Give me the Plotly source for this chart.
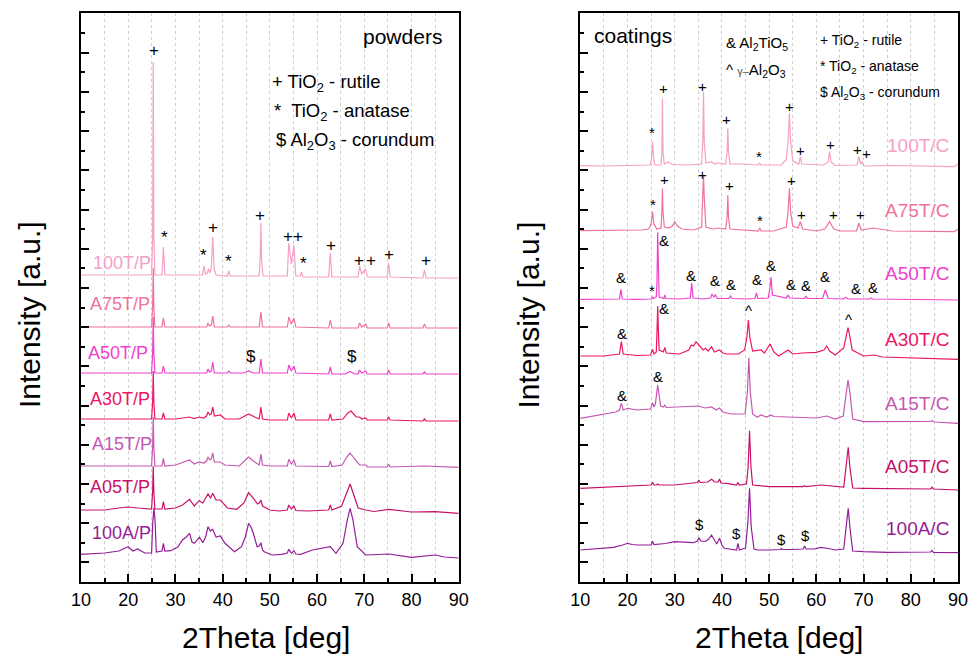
import plotly.graph_objects as go

# ---------------- data (2Theta in deg, intensity in a.u. incl. stacking offset) ----------------
# Powders
tt_100TP = [10, 20, 24.95, 25.17, 25.3, 25.43, 25.65, 27.15, 27.45, 27.75, 32, 35.75, 36.05, 36.35, 36.75, 37.0, 37.3, 37.6, 37.9, 38.2, 38.6, 41.0, 41.3, 41.6, 44, 47.7, 47.95, 48.1, 48.25, 48.55, 53.7, 54.0, 54.55, 55.1, 55.5, 56.4, 56.7, 57.0, 60, 62.45, 62.8, 63.15, 68.7, 69.0, 69.45, 70.3, 70.65, 74.85, 75.15, 75.5, 82.4, 82.75, 83.1, 90]
I_100TP = [307, 307, 307, 345, 520, 345, 307, 307, 335, 307, 307, 307, 316, 308, 309, 313, 309, 314, 345, 313, 307, 306, 311, 306, 306, 306, 322, 359, 322, 306, 306, 339, 318, 337, 306, 306, 310, 305, 305, 305, 329, 305, 305, 316, 308, 313, 305, 305, 319, 305, 304, 312, 304, 304]

tt_A75TP = [10, 20, 24.95, 25.17, 25.3, 25.43, 25.65, 27.15, 27.45, 27.75, 32, 36.6, 36.9, 37.2, 37.6, 37.9, 38.25, 41.0, 41.3, 41.6, 47.75, 48.1, 48.45, 53.7, 54.0, 54.55, 55.1, 55.5, 62.45, 62.8, 63.15, 68.7, 69.0, 69.45, 70.3, 70.65, 74.85, 75.15, 75.5, 82.4, 82.75, 83.1, 90]
I_A75TP = [255, 255, 255, 275, 314, 275, 255, 255, 264, 255, 255, 255, 259, 256, 257, 266, 255, 255, 257, 255, 255, 270, 255, 255, 265, 258, 264, 255, 254, 262, 254, 254, 259, 255, 258, 254, 254, 259, 254, 254, 258, 254, 254]

tt_A50TP = [10, 20, 24.95, 25.17, 25.3, 25.43, 25.65, 27.15, 27.45, 27.75, 32, 36.6, 36.9, 37.2, 37.6, 37.9, 38.25, 41.0, 41.3, 41.6, 44.5, 45.5, 46.5, 47.75, 48.1, 48.45, 53.7, 54.0, 54.55, 55.1, 55.5, 62.45, 62.8, 63.15, 66, 67, 68.0, 68.7, 69.0, 69.45, 70.3, 70.65, 74.85, 75.15, 75.5, 82.4, 82.75, 83.1, 90]
I_A50TP = [209, 209, 209, 228, 265, 228, 209, 209, 216, 209, 209, 209, 213, 210, 211, 220, 209, 209, 211, 209, 209, 211, 209, 209, 223, 209, 209, 217, 211, 216, 209, 208, 215, 208, 208, 210.5, 208, 208, 212, 209, 211, 208, 208, 212, 208, 208, 210, 208, 208]

tt_A30TP = [10, 20, 24.95, 25.17, 25.3, 25.43, 25.65, 27.15, 27.45, 27.75, 30, 33, 34, 35, 36, 36.6, 36.9, 37.3, 37.6, 37.9, 38.25, 39.5, 40.5, 43.5, 45.5, 46.8, 47.75, 48.1, 48.45, 50, 53.7, 54.0, 54.55, 55.1, 55.5, 62.45, 62.8, 63.15, 65.5, 66.5, 67.2, 68.3, 69.0, 69.45, 70.3, 70.65, 74.85, 75.15, 75.5, 82.4, 82.75, 83.1, 90]
I_A30TP = [163, 163, 163, 180, 211, 180, 163, 163, 169, 163, 163, 165, 163.5, 165, 164, 166, 170, 167, 168, 175, 166, 167, 163, 163, 168, 165, 163, 175, 163, 162, 162, 169, 164, 169, 162, 162, 168, 162, 163, 169, 171, 165, 165, 163, 164, 162, 162, 165, 162, 161, 163, 161, 161]

tt_A15TP = [10, 20, 24.95, 25.17, 25.3, 25.43, 25.65, 27.15, 27.45, 27.75, 30, 33, 34, 35, 36, 36.6, 36.9, 37.3, 37.6, 37.9, 38.25, 39.5, 40.5, 43.5, 45.5, 46.8, 47.75, 48.1, 48.45, 50, 53.7, 54.0, 54.55, 55.1, 55.5, 62.45, 62.8, 63.15, 65.3, 66.3, 67.0, 67.8, 69.0, 70.3, 70.65, 74.85, 75.15, 75.5, 82.75, 90]
I_A15TP = [116, 116, 116, 135, 165, 135, 116, 116, 123.7, 116, 117, 122, 118, 120, 119, 121, 125, 122, 123, 129, 120, 120, 117, 116, 125, 120, 117, 128, 117, 116, 116, 122.7, 118, 122, 116, 115.5, 121, 115.5, 117, 125, 129, 124, 117, 117, 115, 115, 117.7, 115, 116, 114.7]

tt_A05TP = [10, 15, 18, 20, 22, 24.95, 25.17, 25.3, 25.43, 25.65, 27.15, 27.45, 27.75, 30, 31.5, 33, 34, 35, 35.8, 36.9, 37.45, 37.9, 38.6, 39.5, 41, 43, 44.5, 45.5, 46.5, 47.4, 47.75, 48.1, 48.45, 50, 52, 53.7, 54.0, 54.55, 55.1, 55.5, 58, 61, 62.45, 62.8, 63.15, 65.2, 66.3, 67.0, 67.7, 68.7, 70.3, 72, 75.2, 80, 85, 90]
I_A05TP = [72, 72, 74, 75, 74, 73, 90, 116, 90, 73, 73, 80.3, 73, 74, 77, 82.7, 76, 81.3, 79, 88, 83.7, 88.7, 82, 82, 74, 72.7, 79, 89.3, 83.7, 78, 79, 82, 76, 72, 71, 72, 77, 73, 76, 71.5, 71, 72, 72, 77, 72, 76, 90, 98, 88, 74, 72, 70.5, 72.7, 70, 70.3, 68.7]

tt_100AP = [10, 15, 18, 20, 21, 22, 23.5, 24.95, 25.2, 25.45, 25.7, 25.95, 27.15, 27.45, 27.75, 29, 30.5, 31.5, 32.3, 33, 33.5, 34, 35.1, 35.8, 36.4, 36.9, 37.4, 37.9, 38.6, 39.5, 40.5, 41.5, 42.5, 44, 44.8, 45.5, 46.0, 46.5, 47.3, 47.75, 48.1, 48.45, 48.8, 50.5, 52.5, 53.7, 54.0, 54.6, 55.1, 55.5, 56.5, 59, 61, 62.8, 64, 65.5, 66.4, 67.0, 67.6, 68.5, 70.3, 75.2, 80, 83, 85, 87, 90]
I_100AP = [27.7, 29, 31, 35.3, 31, 33, 29, 29, 60, 74.3, 60, 30, 31, 38.7, 31, 31.3, 35, 42, 45, 48.7, 40, 38.7, 44.7, 39.3, 45, 55.3, 51, 52.7, 45, 46, 38.7, 34, 30.3, 35.3, 45, 58.7, 55, 48.7, 35.3, 36, 39.3, 32, 30.3, 27, 27.7, 29, 32.7, 28.7, 31.3, 28, 27.7, 32, 33.7, 35.3, 28.7, 38.7, 62, 73.7, 62, 35.3, 27, 28, 24.7, 26, 27, 25, 24]

# Coatings
tt_100TC = [10, 15, 20, 24.8, 25.1, 25.3, 25.5, 25.8, 27.1, 27.28, 27.4, 27.52, 27.8, 28.6, 29.5, 33, 35.7, 35.95, 36.1, 36.25, 36.6, 37.8, 38.5, 39.2, 40.8, 41.1, 41.25, 41.4, 41.7, 44, 47.7, 48.0, 48.3, 52.5, 53.6, 54.0, 54.3, 54.55, 55.0, 56.3, 56.6, 56.9, 61.5, 62.5, 62.8, 63.1, 64, 68.6, 69.0, 69.35, 69.7, 70.1, 76, 85, 89.2, 90]
I_100TC = [416.3, 416, 416.5, 417, 424, 440.3, 424, 417, 417, 430, 483.7, 430, 418, 420, 417.5, 417, 418, 440, 490.3, 440, 419, 420, 418, 419, 418, 430, 453.7, 430, 418, 418, 417, 418.7, 417, 417, 422, 440, 468.7, 440, 421, 418, 425.3, 418, 417, 420, 430.3, 420, 416.5, 417, 425.3, 418, 420.3, 416, 416.5, 416, 415.3, 418]

tt_A75TC = [10, 15, 20, 23, 24.5, 25.0, 25.3, 25.6, 26.2, 27.1, 27.28, 27.4, 27.52, 27.8, 28.7, 29.5, 30.0, 30.6, 31.5, 33, 34, 35.7, 35.95, 36.1, 36.25, 36.6, 38, 39.5, 40.8, 41.1, 41.25, 41.4, 41.7, 44, 47.7, 48.0, 48.3, 51, 53.6, 54.0, 54.3, 54.55, 55.0, 56.1, 56.6, 57.1, 60, 61.8, 62.8, 63.7, 65, 68.5, 69.0, 69.5, 72, 76, 85, 89.2, 90]
I_A75TC = [351.3, 351.3, 352, 352, 353, 358, 370.3, 358, 353, 354, 370, 393.7, 370, 355, 354, 356, 360.3, 356, 353, 352.7, 352, 355, 385, 407, 385, 355, 353, 354, 353, 365, 387, 365, 353, 352, 351, 354, 351, 351, 355, 370, 393.7, 370, 356, 354, 360.3, 353, 351, 353, 360.3, 353, 351, 351, 358.7, 352, 354, 351, 350.5, 350.3, 353]

tt_A50TC = [10, 15, 18.3, 18.6, 18.9, 22, 25.1, 25.3, 25.5, 26.1, 26.25, 26.4, 26.55, 26.7, 27.7, 27.9, 28.1, 31, 33.3, 33.6, 33.9, 36, 37.6, 37.9, 38.3, 38.6, 39, 41.5, 41.8, 42.2, 45, 47.0, 47.3, 47.6, 49.8, 50.1, 50.4, 50.7, 53.6, 54.0, 54.4, 57.5, 57.8, 58.1, 61.3, 61.9, 62.5, 65.7, 66.2, 66.7, 71.3, 71.6, 71.9, 80, 90]
I_A50TC = [282.7, 282.7, 283, 292.7, 283, 282.7, 283, 285.3, 283.5, 285, 300, 349.7, 300, 285, 283.5, 287, 283.5, 283, 284, 298.7, 284, 283, 284, 288, 285, 287, 283.5, 283.5, 286, 283.5, 283, 283.5, 289, 283.5, 284, 292, 304.7, 287, 284, 286.7, 284, 283.5, 286, 283.5, 283.5, 292, 283.5, 283, 284.7, 283, 283, 284, 283, 282.5, 282]

tt_A30TC = [10, 15, 18.3, 18.7, 19.1, 22, 24.9, 25.3, 25.6, 26.1, 26.25, 26.4, 26.55, 26.7, 27.6, 27.9, 28.2, 31, 33.0, 33.5, 34.0, 34.5, 35.3, 36.0, 36.5, 37.1, 37.8, 38.4, 39.5, 40.2, 41, 43.5, 44.8, 45.3, 45.6, 45.9, 46.5, 47.5, 48.3, 49.0, 49.7, 50.2, 51.0, 52, 54.0, 55, 57, 60, 61.6, 62.2, 62.8, 64, 65.8, 66.4, 66.7, 67.0, 67.6, 70, 72.3, 74, 76, 85, 90]
I_A30TC = [226, 226, 228, 240.3, 228, 226.5, 227, 232.7, 228, 230, 250, 276, 250, 232, 230, 234.7, 229, 228, 232, 237, 236, 240.3, 236, 232, 233.7, 231, 235.3, 230, 232, 229, 228, 228, 232, 245, 262, 245, 231, 231.7, 232, 229, 234, 238, 230, 226, 232, 228, 229, 229.7, 232, 236, 231, 227, 234, 248, 254.3, 248, 232, 226, 227, 225, 224.7, 224, 222.7]

tt_A15TC = [10, 14, 17.5, 18.3, 18.7, 19.1, 20, 22, 24.9, 25.3, 25.6, 25.9, 26.2, 26.4, 26.6, 27.0, 27.6, 27.9, 28.2, 30, 33, 35, 36.5, 37.8, 38.8, 39.5, 40.2, 42, 44.9, 45.4, 45.7, 46.0, 46.5, 47.5, 48.2, 49.5, 50.3, 51, 54, 60, 62.2, 64, 65.7, 66.3, 66.7, 67.1, 67.7, 70, 75, 84, 84.5, 85, 90]
I_A15TC = [163.7, 167, 170, 172, 178.7, 172, 173.7, 172, 173, 179.3, 175, 178, 190, 197, 190, 176, 175, 177, 174.5, 174.7, 175.5, 176, 174, 175, 172, 174, 170, 168, 168, 190, 224.3, 190, 168, 164.7, 167, 165, 167, 165.5, 165, 164, 166, 163, 166, 190, 202, 190, 163, 160.3, 160.3, 160.5, 161.3, 160, 158.7]

tt_A05TC = [10, 15, 20, 25.0, 25.3, 25.6, 26.1, 26.4, 26.7, 30, 34.8, 35.1, 35.4, 37.0, 37.8, 38.5, 39.2, 39.5, 39.8, 41, 43.1, 43.4, 43.7, 45.2, 45.55, 45.85, 46.15, 46.5, 50, 52.6, 55, 57.2, 57.5, 57.8, 61, 65.8, 66.4, 66.75, 67.1, 67.7, 70, 84.2, 84.5, 84.8, 90]
I_A05TC = [93.7, 95, 96, 97, 99.3, 97, 97, 98, 97, 97, 99.5, 102, 99.5, 100, 102.7, 100, 100, 103, 99, 98.7, 97, 99.5, 97, 98, 115, 151.3, 115, 97, 95.3, 95.5, 95.3, 95.3, 96.3, 95.3, 97, 95, 120, 134.7, 115, 94, 93.7, 93, 94.7, 93, 92]

tt_100AC = [10, 14, 17, 19, 20, 21, 22, 25.0, 25.3, 25.6, 28, 30, 32, 34, 34.8, 35.15, 35.5, 36.5, 37.2, 37.8, 38.4, 38.9, 39.5, 40.0, 40.5, 42, 43.1, 43.4, 43.7, 45.0, 45.5, 45.85, 46.2, 46.8, 47.5, 50, 52.4, 52.6, 52.8, 55, 57.2, 57.5, 57.8, 59.5, 61, 62.5, 64, 65.8, 66.4, 66.75, 67.1, 67.7, 70, 75, 84.2, 84.5, 84.8, 90]
I_100AC = [32, 33.5, 34.7, 37, 38.7, 37.5, 37, 37, 40.7, 37.5, 38.5, 40.3, 40, 39.3, 41, 44.3, 41, 40.5, 43, 47, 42, 38, 43.7, 37, 33.7, 32.5, 32, 38.7, 32, 34, 60, 93.7, 55, 33, 32, 32, 32.5, 33.5, 32.5, 32.5, 33, 36, 33, 33, 34.7, 33.5, 32, 33, 60, 73.7, 55, 31, 30.3, 29.7, 30, 31.5, 29.7, 29.3]

powder_names = ["100T/P", "A75T/P", "A50T/P", "A30T/P", "A15T/P", "A05T/P", "100A/P"]
coating_names = ["100T/C", "A75T/C", "A50T/C", "A30T/C", "A15T/C", "A05T/C", "100A/C"]
series_colors = ["#f5a0c6", "#f0729c", "#f040cc", "#ee1464", "#c656b2", "#c81068", "#961c98"]

powder_tt = [tt_100TP, tt_A75TP, tt_A50TP, tt_A30TP, tt_A15TP, tt_A05TP, tt_100AP]
powder_I = [I_100TP, I_A75TP, I_A50TP, I_A30TP, I_A15TP, I_A05TP, I_100AP]
coat_tt = [tt_100TC, tt_A75TC, tt_A50TC, tt_A30TC, tt_A15TC, tt_A05TC, tt_100AC]
coat_I = [I_100TC, I_A75TC, I_A50TC, I_A30TC, I_A15TC, I_A05TC, I_100AC]

# label anchor positions (deg, intensity)
powder_label_x = [12.1, 11.4, 11.1, 11.4, 11.8, 11.4, 11.95]
powder_label_y = [319.3, 278, 229.3, 182.7, 137.7, 94.7, 48.7]
coat_label_x = [88.6] * 7
coat_label_y = [437, 371.3, 308.7, 242.7, 178.7, 115.3, 53.7]

# phase markers: (symbol, deg, intensity)
powder_marks = [("+", 25.5, 531.3), ("*", 27.7, 345), ("*", 35.9, 327), ("+", 37.9, 354.3),
                ("*", 41.3, 320.3), ("+", 48.0, 366.3), ("+", 53.85, 345.3), ("+", 56.0, 345.3),
                ("*", 57.15, 318.7), ("+", 62.9, 336.3), ("+", 68.9, 322), ("+", 71.4, 322),
                ("+", 75.2, 327.7), ("+", 83.0, 322), ("$", 46.0, 226), ("$", 67.5, 226)]
coat_marks = [("*", 25.15, 449.3), ("+", 27.55, 493.7), ("+", 35.85, 495.3), ("+", 41.05, 462.7),
              ("*", 47.95, 425.3), ("+", 54.35, 476), ("+", 56.65, 432), ("+", 62.95, 437.7),
              ("+", 68.75, 432.7), ("+", 70.55, 428.7),
              ("*", 25.45, 377.7), ("+", 27.75, 402.7), ("+", 35.95, 408), ("+", 41.55, 396.3),
              ("*", 48.15, 362), ("+", 54.65, 401.3), ("+", 56.95, 368), ("+", 63.65, 368), ("+", 69.45, 368),
              ("&", 27.65, 341.3), ("&", 18.65, 304.7), ("*", 25.15, 292), ("&", 33.45, 307), ("&", 38.45, 302),
              ("&", 41.95, 298), ("&", 47.45, 302.7), ("&", 50.35, 317), ("&", 54.55, 298), ("&", 57.75, 297),
              ("&", 61.85, 305.3), ("&", 68.35, 293.7), ("&", 71.95, 294.7),
              ("&", 27.75, 273.7), ("&", 18.75, 248.7), ("^", 45.55, 271.3), ("^", 66.75, 262.7),
              ("&", 18.75, 187), ("&", 26.55, 205.3),
              ("$", 35.15, 58), ("$", 43.15, 48.7), ("$", 52.55, 42.7), ("$", 57.75, 46.3)]

for a, b in zip(powder_tt + coat_tt, powder_I + coat_I):
    assert len(a) == len(b), (len(a), len(b))

FONT = "Liberation Sans, Arial, sans-serif"

fig = go.Figure()
for k in range(6, -1, -1):
    fig.add_trace(go.Scatter(x=powder_tt[k], y=powder_I[k], mode="lines", xaxis="x", yaxis="y",
                             line=dict(color=series_colors[k], width=1.2), hoverinfo="skip"))
    fig.add_trace(go.Scatter(x=coat_tt[k], y=coat_I[k], mode="lines", xaxis="x2", yaxis="y2",
                             line=dict(color=series_colors[k], width=1.2), hoverinfo="skip"))

ann = []
for k in range(7):
    ann.append(dict(x=powder_label_x[k], y=powder_label_y[k], xref="x", yref="y", text=powder_names[k],
                    showarrow=False, xanchor="left", yanchor="middle",
                    font=dict(family=FONT, size=18, color=series_colors[k])))
    ann.append(dict(x=coat_label_x[k], y=coat_label_y[k], xref="x2", yref="y2", text=coating_names[k],
                    showarrow=False, xanchor="right", yanchor="middle",
                    font=dict(family=FONT, size=19, color=series_colors[k])))
for s, x, y in powder_marks:
    ann.append(dict(x=x, y=y, xref="x", yref="y", text=s, showarrow=False,
                    xanchor="center", yanchor="middle",
                    font=dict(family=FONT, size=17, color="black")))
for s, x, y in coat_marks:
    ann.append(dict(x=x, y=y, xref="x2", yref="y2", text=s, showarrow=False,
                    xanchor="center", yanchor="middle",
                    font=dict(family=FONT, size=15, color="black")))

# panel titles and phase keys
ann += [
    dict(x=78.0, y=546, xref="x", yref="y", text="powders", showarrow=False,
         font=dict(family=FONT, size=21, color="black")),
    dict(x=50.1, y=499, xref="x", yref="y", text="+ TiO<sub>2</sub> - rutile", showarrow=False,
         xanchor="left", font=dict(family=FONT, size=18.5, color="black")),
    dict(x=50.5, y=470, xref="x", yref="y", text="*  TiO<sub>2</sub> - anatase", showarrow=False,
         xanchor="left", font=dict(family=FONT, size=18.5, color="black")),
    dict(x=50.9, y=441, xref="x", yref="y", text="$ Al<sub>2</sub>O<sub>3</sub> - corundum", showarrow=False,
         xanchor="left", font=dict(family=FONT, size=18.5, color="black")),
    dict(x=21.25, y=547, xref="x2", yref="y2", text="coatings", showarrow=False,
         font=dict(family=FONT, size=21, color="black")),
    dict(x=40.4, y=539, xref="x2", yref="y2", text="& Al<sub>2</sub>TiO<sub>5</sub>", showarrow=False,
         xanchor="left", font=dict(family=FONT, size=15, color="black")),
    dict(x=40.4, y=512, xref="x2", yref="y2",
         text="^ <span style='font-size:11px;color:#555'>γ–</span>Al<sub>2</sub>O<sub>3</sub>",
         showarrow=False, xanchor="left", font=dict(family=FONT, size=15, color="black")),
    dict(x=60.3, y=541.3, xref="x2", yref="y2", text="+ TiO<sub>2</sub> - rutile", showarrow=False,
         xanchor="left", font=dict(family=FONT, size=14, color="black")),
    dict(x=60.3, y=515.3, xref="x2", yref="y2", text="* TiO<sub>2</sub> - anatase", showarrow=False,
         xanchor="left", font=dict(family=FONT, size=14, color="black")),
    dict(x=60.3, y=489.3, xref="x2", yref="y2", text="$ Al<sub>2</sub>O<sub>3</sub> - corundum", showarrow=False,
         xanchor="left", font=dict(family=FONT, size=14, color="black")),
    # axis titles
    dict(x=-0.0592, y=0.4692, xref="paper", yref="paper", text="Intensity [a.u.]", textangle=-90,
         xanchor="center", yanchor="middle",
         showarrow=False, font=dict(family=FONT, size=30, color="black")),
    dict(x=0.5102, y=0.4692, xref="paper", yref="paper", text="Intensity [a.u.]", textangle=-90,
         xanchor="center", yanchor="middle",
         showarrow=False, font=dict(family=FONT, size=30, color="black")),
    dict(x=0.2114, y=-0.0984, xref="paper", yref="paper", text="2Theta [deg]",
         xanchor="center", yanchor="middle",
         showarrow=False, font=dict(family=FONT, size=30, color="black")),
    dict(x=0.7955, y=-0.0984, xref="paper", yref="paper", text="2Theta [deg]",
         xanchor="center", yanchor="middle",
         showarrow=False, font=dict(family=FONT, size=30, color="black")),
]

xcommon = dict(range=[10, 90], tick0=10, dtick=10, ticks="inside", ticklen=8, tickwidth=1.5,
               tickcolor="black", showline=True, linewidth=2, linecolor="black", mirror=True,
               showgrid=True, gridcolor="#cfcfcf", griddash="dot", gridwidth=1, zeroline=False,
               tickfont=dict(family=FONT, size=18, color="black"),
               minor=dict(dtick=5, tick0=10, ticks="inside", ticklen=4, tickwidth=1.5, tickcolor="black",
                          showgrid=True, gridcolor="#cfcfcf", griddash="dot", gridwidth=1))
ycommon = dict(range=[0, 569], tick0=19.6, dtick=39.2, ticks="inside", ticklen=8, tickwidth=1.5,
               tickcolor="black", showticklabels=False, showline=True, linewidth=2, linecolor="black",
               mirror=True, showgrid=False, zeroline=False,
               minor=dict(tick0=0, dtick=19.6, ticks="inside", ticklen=4, tickwidth=1.5, tickcolor="black",
                          showgrid=False))

fig.update_layout(
    width=971, height=657, autosize=False, margin=dict(l=81, r=3, t=13, b=75),
    paper_bgcolor="white", plot_bgcolor="white", showlegend=False, hovermode=False,
    xaxis=dict(domain=[0, 0.4307], anchor="y", **xcommon),
    yaxis=dict(domain=[0, 1], anchor="x", **ycommon),
    xaxis2=dict(domain=[0.5693, 1], anchor="y2", **xcommon),
    yaxis2=dict(domain=[0, 1], anchor="x2", **ycommon),
    annotations=ann,
)

fig.write_html("out.html", config={"displayModeBar": False, "responsive": False},
               post_script="document.body.style.margin='0px';document.body.style.padding='0px';"
                           "document.documentElement.style.overflow='hidden';")
